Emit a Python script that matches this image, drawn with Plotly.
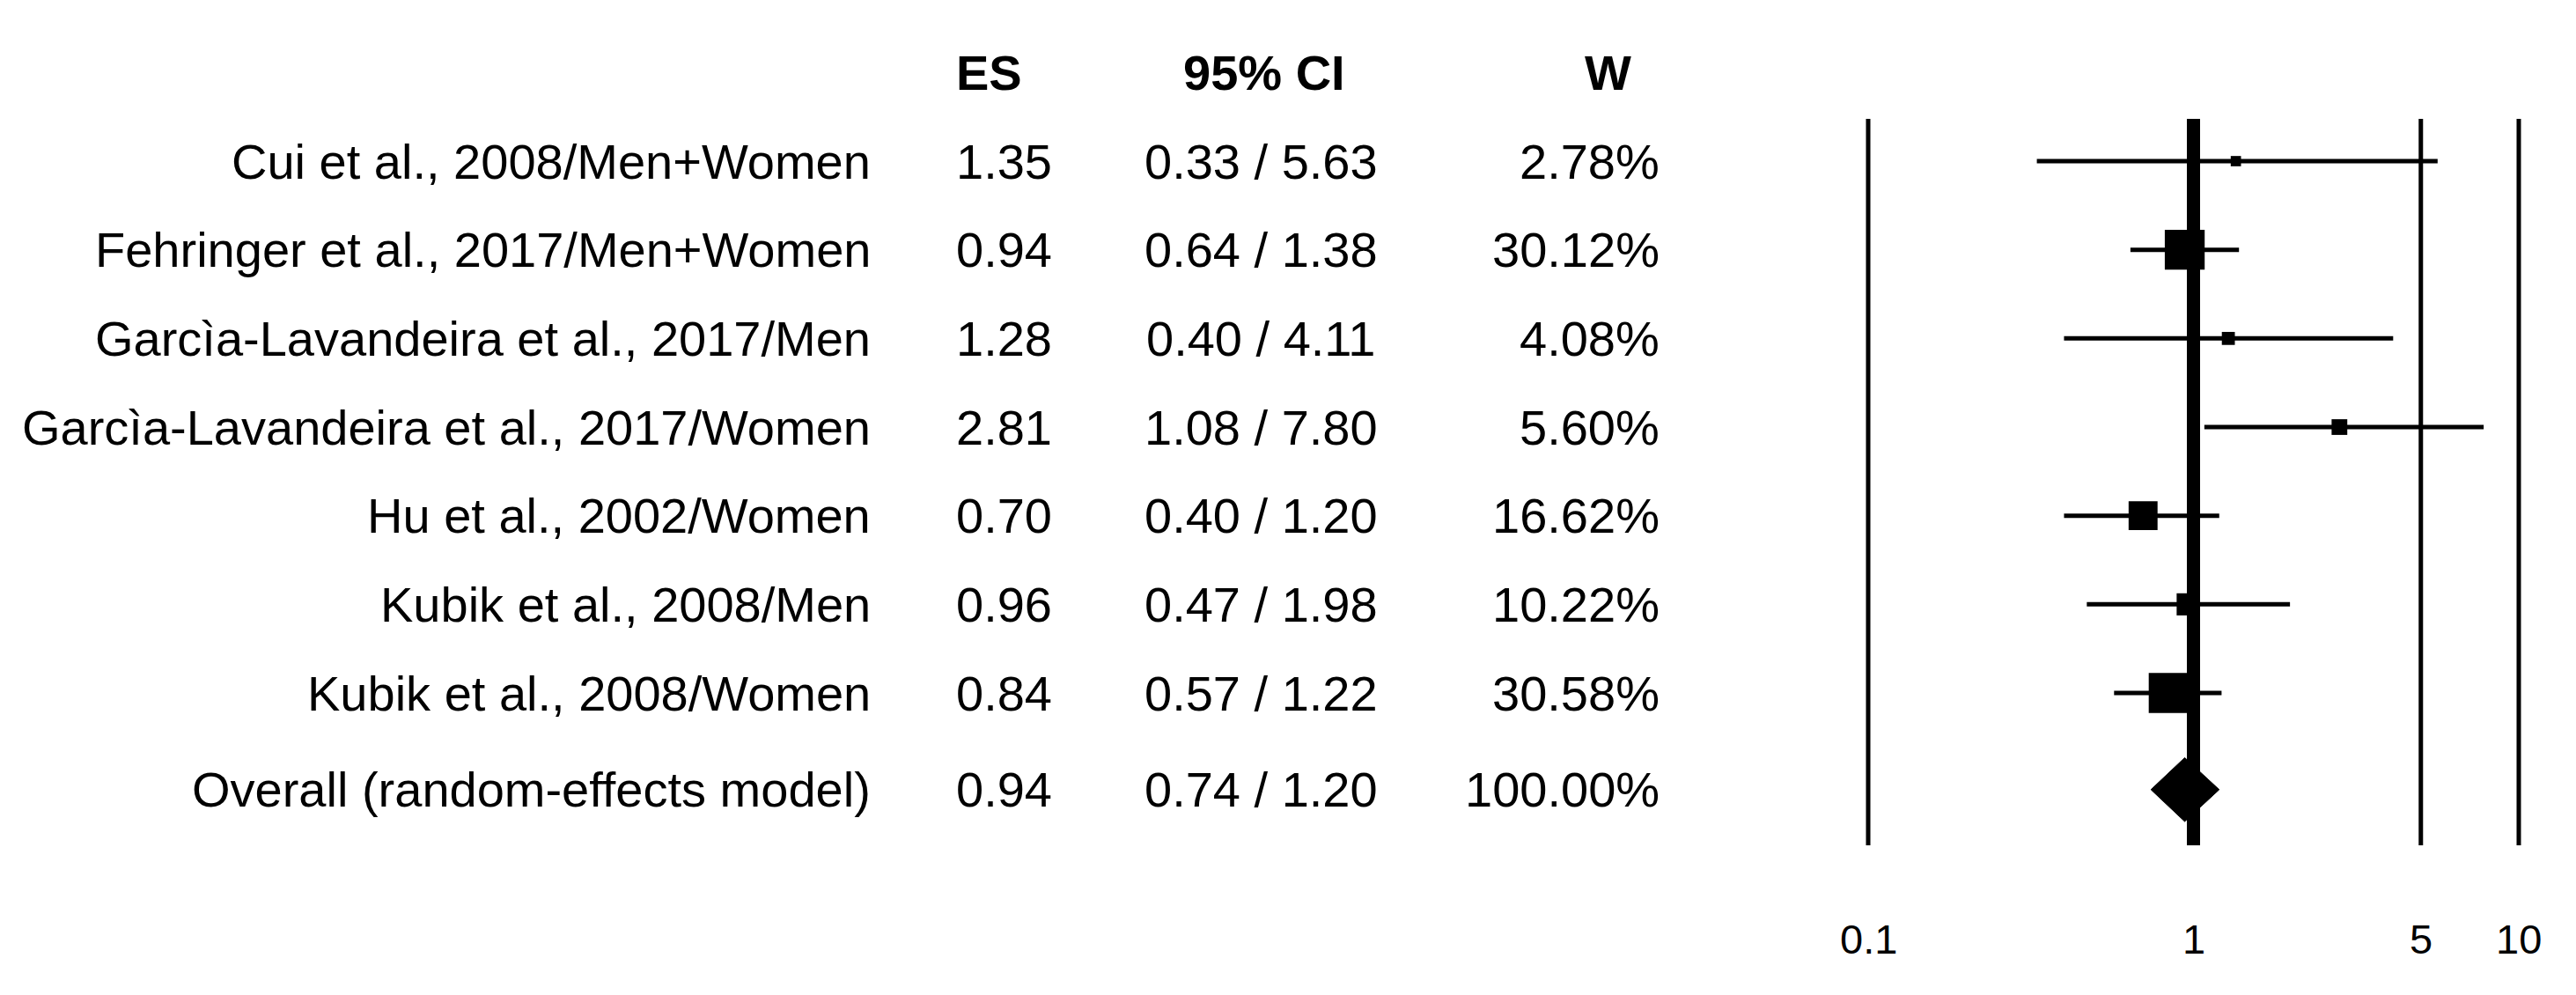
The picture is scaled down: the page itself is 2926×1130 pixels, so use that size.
import math
import plotly.graph_objects as go

# ---------------- data ----------------
studies = [
    "Cui et al., 2008/Men+Women",
    "Fehringer et al., 2017/Men+Women",
    "Garcìa-Lavandeira et al., 2017/Men",
    "Garcìa-Lavandeira et al., 2017/Women",
    "Hu et al., 2002/Women",
    "Kubik et al., 2008/Men",
    "Kubik et al., 2008/Women",
]
es = [1.35, 0.94, 1.28, 2.81, 0.70, 0.96, 0.84]
ci_lo = [0.33, 0.64, 0.40, 1.08, 0.40, 0.47, 0.57]
ci_hi = [5.63, 1.38, 4.11, 7.80, 1.20, 1.98, 1.22]
weights = [2.78, 30.12, 4.08, 5.60, 16.62, 10.22, 30.58]

overall_label = "Overall (random-effects model)"
overall_es = 0.94
overall_lo = 0.74
overall_hi = 1.20
overall_w = 100.00

headers = ["ES", "95% CI", "W"]
tick_vals = [0.1, 1, 5, 10]
tick_labels = ["0.1", "1", "5", "10"]
null_value = 1

# ---------------- layout helpers ----------------
OFF = 8                      # default page margin of the html body
W_FIG, H_FIG = 2926 - OFF, 1130 - OFF
FONT = "Liberation Sans, Arial, sans-serif"
TXT = 56
ROW_PX = 100.67
ROW0_PX = 183 - OFF          # screen y of first row, in figure pixels
row_y = list(range(len(studies)))
overall_y = 7.09
header_y = -1.0
line_top, line_bot = -0.477, 7.718
tick_y = 8.78


def px(x):
    """screen x pixel -> paper fraction"""
    return (x - OFF) / W_FIG


fig = go.Figure()

# reference vertical lines
for v in tick_vals:
    fig.add_trace(go.Scatter(
        x=[v, v], y=[line_top, line_bot], mode="lines",
        line=dict(color="black", width=15 if v == null_value else 5),
        hoverinfo="skip", showlegend=False))

# study estimates with CI
sizes = [8.8 * math.sqrt(w) - 3 for w in weights]
fig.add_trace(go.Scatter(
    x=es, y=row_y, mode="markers",
    marker=dict(symbol="square", size=sizes, color="black", opacity=1,
                line=dict(width=0)),
    error_x=dict(type="data", symmetric=False,
                 array=[h - e for h, e in zip(ci_hi, es)],
                 arrayminus=[e - l for e, l in zip(es, ci_lo)],
                 width=0, thickness=5, color="black"),
    showlegend=False, hoverinfo="skip"))

# overall diamond
dh = 0.36
fig.add_trace(go.Scatter(
    x=[overall_lo, overall_es, overall_hi, overall_es, overall_lo],
    y=[overall_y, overall_y - dh, overall_y, overall_y + dh, overall_y],
    mode="lines", fill="toself", fillcolor="black",
    line=dict(color="black", width=1), showlegend=False, hoverinfo="skip"))

ann = []
font = dict(family=FONT, size=TXT, color="black")
# headers
ann.append(dict(text="<b>%s</b>" % headers[0], x=px(1084), xanchor="left", y=header_y))
ann.append(dict(text="<b>%s</b>" % headers[1], x=px(1436), xanchor="center", y=header_y))
ann.append(dict(text="<b>%s</b>" % headers[2], x=px(1826), xanchor="center", y=header_y))

labels = studies + [overall_label]
es_all = es + [overall_es]
lo_all = ci_lo + [overall_lo]
hi_all = ci_hi + [overall_hi]
w_all = weights + [overall_w]
ys = row_y + [overall_y]
for lab, e, l, h, w, y in zip(labels, es_all, lo_all, hi_all, w_all, ys):
    ann.append(dict(text=lab, x=px(991), xanchor="right", y=y))
    ann.append(dict(text="%.2f" % e, x=px(1084), xanchor="left", y=y))
    ann.append(dict(text="%.2f / %.2f" % (l, h), x=px(1432), xanchor="center", y=y))
    ann.append(dict(text="%.2f%%" % w, x=px(1887), xanchor="right", y=y))

for a in ann:
    a.update(xref="paper", yref="y", yanchor="middle", showarrow=False, font=font)

# tick labels under the reference lines
for v, t in zip(tick_vals, tick_labels):
    ann.append(dict(text=t, x=math.log10(v), xref="x", y=tick_y, yref="y",
                    xanchor="center", yanchor="middle", showarrow=False,
                    font=dict(family=FONT, size=47, color="black")))

dec = 369.5
x_start = 2122 - 0.1 * dec
x_end = x_start + 2.2 * dec
y_top = -ROW0_PX / ROW_PX
y_bot = (H_FIG - ROW0_PX) / ROW_PX
fig.update_layout(
    width=W_FIG, height=H_FIG,
    margin=dict(l=0, r=0, t=0, b=0),
    paper_bgcolor="white", plot_bgcolor="white",
    annotations=ann,
    xaxis=dict(type="log", range=[-1.1, 1.1], domain=[px(x_start), px(x_end)],
               showgrid=False, zeroline=False, showticklabels=False, ticks="",
               showline=False, fixedrange=True),
    yaxis=dict(range=[y_bot, y_top], domain=[0, 1], showgrid=False,
               zeroline=False, showticklabels=False, ticks="", showline=False,
               fixedrange=True),
)

fig.write_html("out.html")
